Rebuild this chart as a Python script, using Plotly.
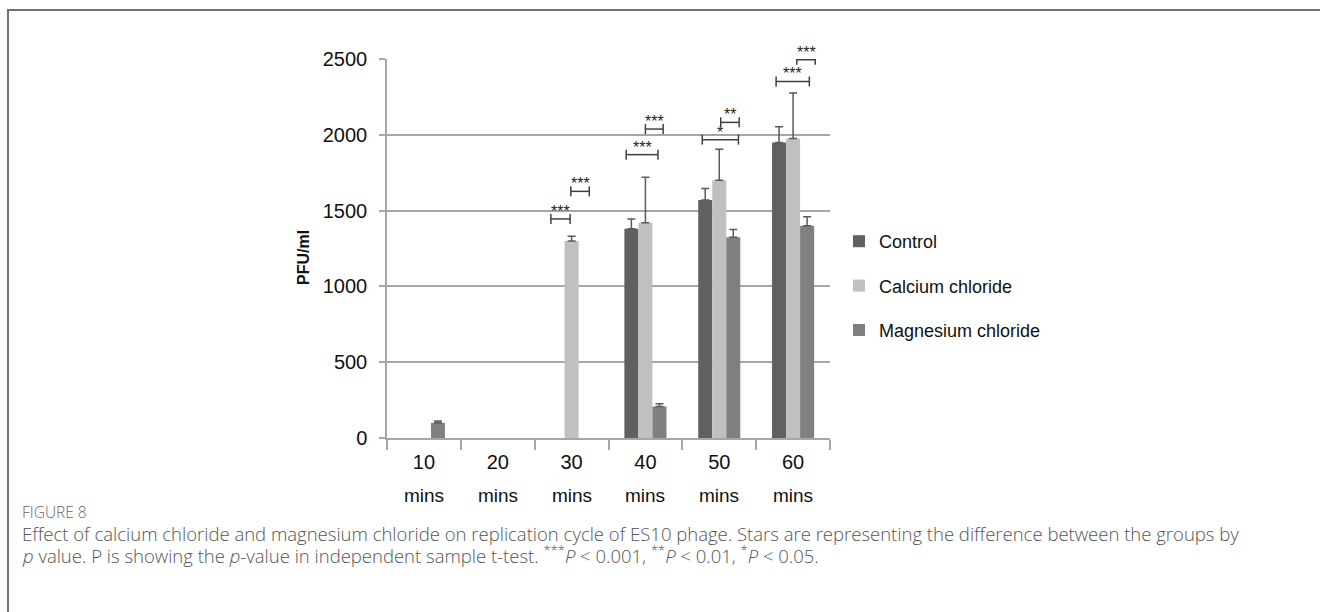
import plotly.graph_objects as go

# Sampling times and plaque counts (PFU/ml) for each treatment
timepoints = ["10 mins", "20 mins", "30 mins", "40 mins", "50 mins", "60 mins"]
series_names = ["Control", "Calcium chloride", "Magnesium chloride"]
control = [0, 0, 0, 1380, 1570, 1950]
calcium = [0, 0, 1300, 1420, 1700, 1975]
magnesium = [100, 0, 0, 208, 1325, 1400]
# upper standard deviation (None where no error bar is shown)
control_err = [None, None, None, 65, 75, 103]
calcium_err = [None, None, 30, 300, 205, 300]
magnesium_err = [12, None, None, 18, 50, 60]

# Significance comparisons: (time point, left offset, right offset, height in PFU/ml, stars)
comparisons = [
    ("30 mins", -0.28, -0.02, 1445, "***"),
    ("30 mins", -0.01, 0.24, 1627, "***"),
    ("40 mins", -0.26, 0.17, 1869, "***"),
    ("40 mins", 0.00, 0.24, 2038, "***"),
    ("50 mins", -0.23, 0.26, 1968, "*"),
    ("50 mins", 0.02, 0.27, 2082, "**"),
    ("60 mins", -0.23, 0.22, 2352, "***"),
    ("60 mins", 0.05, 0.30, 2495, "***"),
]

caption_title = "FIGURE 8"
caption_line1 = ("Effect of calcium chloride and magnesium chloride on replication cycle of ES10 phage. "
                 "Stars are representing the difference between the groups by")
caption_line2 = ("<i>p</i> value. P is showing the <i>p</i>-value in independent sample t-test. "
                 "<sup>***</sup><i>P</i> &lt; 0.001, <sup>**</sup><i>P</i> &lt; 0.01, "
                 "<sup>*</sup><i>P</i> &lt; 0.05.")

colors = ["#606060", "#c0c0c0", "#808080"]
FONT = "Liberation Sans, Arial, sans-serif"
GRID = "#a6a6a6"

fig = go.Figure()
for name, vals, errs, col in zip(series_names, [control, calcium, magnesium],
                                  [control_err, calcium_err, magnesium_err], colors):
    # zero counts leave an empty slot (no bar, no error whisker)
    fig.add_trace(go.Bar(
        x=timepoints, y=[v if v else None for v in vals], name=name, legendgroup=name,
        marker=dict(color=col, line=dict(width=0)),
        error_y=dict(type="data", symmetric=False,
                     array=[e if e is not None else 0 for e in errs],
                     arrayminus=[0] * len(errs),
                     color="#5a5a5a", thickness=1.5, width=4),
    ))

# plot area in pixels: x 387..830, y 59..438
L, R, T, B = 387, 830, 59, 438
W, H = R - L, B - T


def px(x):
    return (x - L) / W


def py(y):
    return (B - y) / H


annotations = []
shapes = []
tick_h = 33  # half height of bracket end ticks, in PFU/ml
idx = {t: i for i, t in enumerate(timepoints)}
for t, a, b, h, stars in comparisons:
    x0, x1 = idx[t] + a, idx[t] + b
    line = dict(color="#404040", width=1.5)
    shapes.append(dict(type="line", xref="x", yref="y", x0=x0, x1=x1, y0=h, y1=h, line=line))
    shapes.append(dict(type="line", xref="x", yref="y", x0=x0, x1=x0, y0=h - tick_h, y1=h + tick_h, line=line))
    shapes.append(dict(type="line", xref="x", yref="y", x0=x1, x1=x1, y0=h - tick_h, y1=h + tick_h, line=line))
    annotations.append(dict(x=(x0 + x1) / 2, y=h, xref="x", yref="y", text=stars,
                            showarrow=False, yanchor="bottom", yshift=-3,
                            font=dict(family=FONT, size=16, color="#262626")))

# second line of the category labels
for t in timepoints:
    annotations.append(dict(x=t, y=py(495), xref="x", yref="paper", text=t.split()[1],
                            showarrow=False, yanchor="middle",
                            font=dict(family=FONT, size=19, color="#111111")))

# y-axis title
annotations.append(dict(x=px(303), y=py(258), xref="paper", yref="paper", text="<b>PFU/ml</b>",
                        textangle=-90, showarrow=False, xanchor="center", yanchor="middle",
                        font=dict(family=FONT, size=16, color="#111111")))

# figure caption
CAP = "Open Sans, Lato, sans-serif"
CAP_X = 20
annotations.append(dict(x=px(CAP_X), y=py(512), xref="paper", yref="paper", text=caption_title,
                        showarrow=False, xanchor="left", yanchor="middle",
                        font=dict(family=CAP, size=15.5, color="#666666", weight=300)))
annotations.append(dict(x=px(CAP_X), y=py(533), xref="paper", yref="paper", text=caption_line1,
                        showarrow=False, xanchor="left", yanchor="middle",
                        font=dict(family=CAP, size=18.5, color="#555555", weight=300)))
annotations.append(dict(x=px(CAP_X), y=py(554), xref="paper", yref="paper", text=caption_line2,
                        showarrow=False, xanchor="left", yanchor="middle",
                        font=dict(family=CAP, size=18.5, color="#555555", weight=300)))

# frame around the figure panel (top and left edges visible)
shapes.append(dict(type="rect", xref="paper", yref="paper", x0=px(8), x1=px(1340),
                   y0=py(10), y1=py(640), line=dict(color="#707070", width=2), layer="below"))

fig.update_layout(
    width=1320, height=612,
    margin=dict(l=L, r=1320 - R, t=T, b=612 - B),
    paper_bgcolor="white", plot_bgcolor="white",
    barmode="group", bargap=0.43, bargroupgap=0,
    showlegend=True,
    legend=dict(x=px(839), y=py(223), xanchor="left", yanchor="top",
                font=dict(family=FONT, size=18, color="#111111"),
                tracegroupgap=18, traceorder="grouped", bgcolor="rgba(0,0,0,0)"),
    xaxis=dict(type="category", categoryorder="array", categoryarray=timepoints,
               tickvals=timepoints, ticktext=[t.split()[0] for t in timepoints],
               range=[-0.5, 5.5], showline=True, linecolor=GRID, linewidth=1.5,
               ticks="outside", tickson="boundaries", ticklen=10, tickcolor=GRID, tickwidth=1.5,
               showgrid=False, ticklabelstandoff=5,
               tickfont=dict(family=FONT, size=20, color="#111111")),
    yaxis=dict(range=[0, 2500], dtick=500, showline=True, linecolor=GRID, linewidth=1.5,
               ticks="outside", ticklen=6, tickcolor=GRID, tickwidth=1.5,
               showgrid=True, gridcolor=GRID, gridwidth=1.5, zeroline=False,
               ticklabelstandoff=8,
               tickfont=dict(family=FONT, size=20, color="#111111")),
    annotations=annotations,
    shapes=shapes,
)

fig.write_html("out.html")
